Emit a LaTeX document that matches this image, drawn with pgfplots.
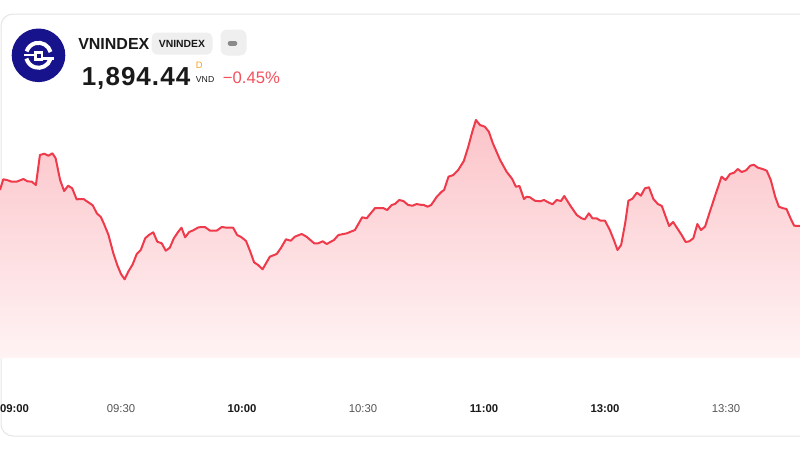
\documentclass[border=0pt]{standalone}
\usepackage{fontspec}
\setmainfont{Liberation Sans}
\usepackage{pgfplots}
\pgfplotsset{compat=1.18}
\usepackage{pgfplotstable}

\definecolor{lineRed}{HTML}{EE3A4A}
\definecolor{fillTop}{HTML}{FBC4C9}
\definecolor{fillBot}{HTML}{FFF3F4}
\definecolor{logoBlue}{HTML}{17138C}
\definecolor{badgeGray}{HTML}{EFEFEF}
\definecolor{dashGray}{HTML}{8A8A8A}
\definecolor{cardLine}{HTML}{E6E6E6}
\definecolor{chgRed}{HTML}{F4505D}
\definecolor{dOrange}{HTML}{F5A524}
\definecolor{tickDark}{HTML}{1A1A1A}
\definecolor{tickGray}{HTML}{555555}

% t = trading minutes since 09:00 (lunch break left out), v = index
\pgfplotstableread{
t v
0 1898.04
0.8 1899.11
1.7 1899.04
2.9 1898.87
4.1 1898.87
5.8 1899.14
6.8 1898.91
7.9 1898.87
8.9 1898.54
9.9 1901.54
11.0 1901.67
12.0 1901.47
13.0 1901.71
13.8 1901.21
14.9 1899.04
15.9 1897.94
16.9 1898.47
17.9 1898.21
19.0 1897.11
20.7 1897.14
21.9 1896.81
23.0 1896.51
24.0 1895.71
25.0 1895.34
25.8 1894.64
26.9 1893.54
28.1 1891.71
29.1 1890.51
30.0 1889.64
30.9 1889.11
31.8 1889.87
32.9 1890.61
33.9 1891.64
34.9 1892.04
36.0 1893.21
36.9 1893.54
38.0 1893.81
39.0 1892.87
40.1 1892.71
41.1 1891.97
42.1 1892.27
43.1 1893.21
44.2 1893.87
45.0 1894.27
45.9 1893.31
46.9 1893.84
47.9 1894.01
49.2 1894.31
50.8 1894.34
52.1 1893.97
53.7 1893.97
55.0 1894.34
56.2 1894.27
57.8 1894.27
58.8 1893.54
59.9 1893.31
61.0 1892.94
62.0 1891.94
63.0 1890.81
64.0 1890.54
65.1 1890.11
66.9 1891.37
68.6 1891.64
69.6 1892.21
70.9 1893.11
72.1 1892.97
73.1 1893.37
74.8 1893.64
76.0 1893.37
77.9 1892.71
78.9 1892.71
80.0 1892.91
81.0 1892.64
82.8 1893.04
83.9 1893.54
86.0 1893.71
88.0 1894.04
89.8 1895.31
90.9 1895.21
93.0 1896.24
95.0 1896.24
96.0 1896.04
97.1 1896.54
97.9 1896.64
99.0 1897.04
100.0 1896.94
101.2 1896.54
102.3 1896.47
103.3 1896.64
104.1 1896.57
105.1 1896.54
106.0 1896.37
106.9 1896.54
108.3 1897.37
109.5 1897.87
110.1 1898.04
111.2 1899.37
112.4 1899.54
113.6 1900.04
115.0 1900.94
116.1 1902.37
117.1 1903.87
118.0 1905.04
119.0 1904.54
120.2 1904.37
121.2 1903.87
122.2 1902.71
124.0 1901.04
125.6 1899.87
127.0 1899.14
127.9 1898.37
128.8 1898.44
129.9 1897.14
130.6 1897.37
131.4 1897.31
132.6 1896.97
133.9 1896.91
134.9 1897.04
135.9 1896.81
137.0 1896.61
138.0 1897.04
139.1 1896.94
139.9 1897.44
141.3 1896.54
143.0 1895.54
144.2 1895.21
145.0 1895.11
146.0 1895.71
146.9 1895.21
147.9 1895.21
148.9 1894.97
150.0 1894.97
151.2 1894.04
152.2 1893.04
153.1 1892.04
154.0 1892.54
155.0 1894.71
155.8 1896.97
156.8 1897.17
157.9 1897.77
158.9 1897.47
159.9 1898.21
160.9 1898.31
162.0 1897.14
163.1 1896.64
164.1 1896.44
164.9 1895.54
165.9 1894.44
166.9 1894.84
168.2 1894.04
169.0 1893.54
170.0 1892.84
170.9 1892.91
171.9 1893.21
172.9 1894.64
173.8 1894.04
174.8 1894.37
176.0 1895.87
177.5 1897.71
178.9 1899.37
179.9 1899.04
181.0 1899.64
182.0 1899.77
182.9 1900.14
183.9 1899.84
185.0 1900.01
186.0 1900.47
186.9 1900.57
187.9 1900.27
189.1 1900.14
190.1 1899.97
191.1 1899.04
192.2 1897.37
193.1 1896.37
194.2 1896.21
195.0 1896.14
196.0 1895.21
196.9 1894.47
198.3 1894.44
}\price

\begin{document}
\begin{tikzpicture}
\path[use as bounding box, fill=white] (0,0) rectangle (600pt,-337.5pt);

\begin{scope}[x=0.75pt, y=-0.75pt]
  % card
  \draw[cardLine, line width=0.75pt, rounded corners=9pt] (1,14) rectangle (840,436);
  % logo
  \fill[logoBlue] (38.5,55.3) circle[radius=26.8];
  \draw[white, line width=3pt] (38.5,55.3) ++(18:12.5) arc[start angle=18, end angle=165, radius=12.5];
  \draw[white, line width=3pt] (38.5,55.3) ++(-15:12.5) arc[start angle=-15, end angle=-162, radius=12.5];
  \draw[white, line width=2.2pt] (24,55) -- (35.5,55);
  \draw[white, line width=2.2pt] (42,58.3) -- (53.5,58.3);
  \draw[white, line width=1.8pt] (35.5,52.3) rectangle (42,59.5);
  % name and badges
  \node[anchor=base west, inner sep=0, font=\fontsize{12}{14}\selectfont\bfseries, text=tickDark] at (78,49.5) {VNINDEX};
  \fill[badgeGray, rounded corners=4pt] (151.5,32.5) rectangle (212.5,54.5);
  \node[anchor=base, inner sep=0, font=\fontsize{7.8}{9}\selectfont\bfseries, text=tickDark] at (182,47.7) {VNINDEX};
  \fill[badgeGray, rounded corners=5pt] (220.5,29.5) rectangle (246.5,55.5);
  \draw[dashGray, line width=3.8pt, line cap=round] (230.2,43.2) -- (234.8,43.2);
  % price line
  \node[anchor=base west, inner sep=0, font=\fontsize{19.5}{23}\selectfont\bfseries\addfontfeatures{LetterSpace=4}, text=tickDark] at (81.5,85) {1,894.44};
  \node[anchor=base west, inner sep=0, font=\fontsize{7}{8}\selectfont, text=dOrange] at (195.7,68) {D};
  \node[anchor=base west, inner sep=0, font=\fontsize{6.5}{8}\selectfont, text=tickDark] at (195.7,82.3) {VND};
  \node[anchor=base west, inner sep=0, font=\fontsize{12.5}{15}\selectfont, text=chgRed] at (222.7,83.3) {−0.45\%};
\end{scope}

\begin{axis}[
  at={(0pt,-268.5pt)}, anchor=south west,
  width=600pt, height=197.25pt, scale only axis,
  xmin=0, xmax=198.35, ymin=1881.24, ymax=1907.54,
  axis line style={draw=none},
  major tick length=0pt,
  ytick=\empty,
  xtick={0,30,60,90,120,150,180},
  xticklabels={\rlap{\textbf{09:00}}, {\color{tickGray}09:30}, \textbf{10:00}, {\color{tickGray}10:30}, \textbf{11:00}, \textbf{13:00}, {\color{tickGray}13:30}},
  xticklabel style={anchor=base, yshift=-40.5pt, font=\fontsize{8.5}{10}\selectfont, text=tickDark},
]
  % area under the line, closed down to the bottom of the axis
  \addplot[draw=none, top color=fillTop, bottom color=fillBot] table[x=t, y=v] {\price}
    |- (axis cs:0,1881.24) -- cycle;
  \addplot[lineRed, line width=1.5pt, line join=round] table[x=t, y=v] {\price};
\end{axis}
\end{tikzpicture}
\end{document}
